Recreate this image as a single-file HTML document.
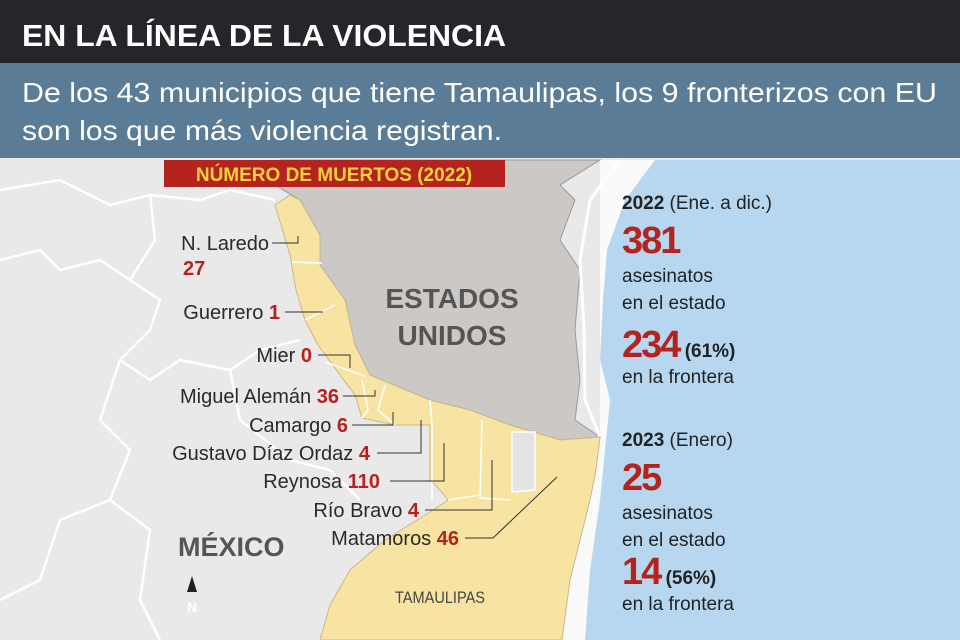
<!DOCTYPE html>
<html><head><meta charset="utf-8"><style>
html,body{margin:0;padding:0;width:960px;height:640px;overflow:hidden;font-family:"Liberation Sans",sans-serif;}
svg{display:block;}
</style></head><body>
<svg width="960" height="640" xmlns="http://www.w3.org/2000/svg" font-family="Liberation Sans, sans-serif">
<rect width="960" height="640" fill="#e9e9e9"/>
<g fill="none" stroke="#fff" stroke-width="2.5">
<polyline points="0,190 60,180 110,205 150,195 200,200 230,190 275,200"/>
<polyline points="150,195 155,240 130,280 160,300 150,330 120,360 150,380 180,360 230,370 260,350 300,340"/>
<polyline points="120,360 100,420 130,450 110,500 150,530 140,600 160,640"/>
<polyline points="0,260 40,250 60,270 100,260 130,280"/>
<polyline points="230,370 240,420 290,460 330,470 360,500"/>
<polyline points="110,500 60,520 40,580 0,600"/>
</g>
<path d="M655,160 L960,160 L960,640 L585,640 L590,570 L600,500 L606,440 L610,400 L600,360 L603,300 L607,250 L625,200 Z" fill="#b7d6f0"/>
<path d="M600,160 L655,160 L625,200 L607,250 L603,300 L600,360 L610,400 L606,440 L600,500 L590,570 L585,640 L560,640 L570,560 L590,500 L600,437 Z" fill="#fafafa"/>
<path d="M280,160 L600,160 L560,185 L575,200 L560,240 L580,270 L575,330 L580,380 L575,420 L600,437 L560,440 L510,425 L470,410 L430,400 L370,375 L355,345 L345,300 L320,265 L320,235 L300,200 L275,185 Z" fill="#cbc8c5" stroke="#999" stroke-width="1"/>
<g fill="none" stroke="#fff" stroke-width="3"><polyline points="620,160 590,200 580,260 584,330 585,400 600,437"/></g>
<path d="M275,205 L290,195 L300,200 L320,235 L320,265 L345,300 L355,345 L370,375 L430,400 L470,410 L510,425 L560,440 L600,437 L596,470 L590,500 L580,540 L570,580 L562,640 L320,640 L330,605 L350,570 L385,540 L430,512 L448,500 L440,490 L430,480 L430,425 L395,425 L362,418 L355,395 L340,375 L318,345 L305,320 L296,290 L290,255 Z" fill="#f7e3a2" stroke="#c9b88a" stroke-width="1"/>
<g fill="none" stroke="#fff" stroke-width="1.5">
<polyline points="292,262 322,263"/><polyline points="305,320 335,305"/><polyline points="325,362 365,376"/>
<polyline points="362,380 368,410 362,418"/><polyline points="385,385 378,410 395,425"/>
<polyline points="430,400 432,425"/><polyline points="432,425 432,500"/>
<polyline points="482,420 480,498 510,500"/><polyline points="448,500 480,495"/>
</g>
<path d="M512,432 L535,432 L535,490 L512,492 Z" fill="#e4e4e4" stroke="#fff" stroke-width="1.5"/>
<rect x="164" y="160" width="341" height="27" fill="#b5231f"/>
<text x="334" y="181" text-anchor="middle" font-size="19" font-weight="bold" fill="#f5d23c">NÚMERO DE MUERTOS (2022)</text>
<g fill="none" stroke="#333" stroke-width="1">
<polyline points="272,243 298,243 298,236"/>
<polyline points="285,312 323,312"/>
<polyline points="318,355 350,355 350,368"/>
<polyline points="343,396 375,396 375,390"/>
<polyline points="352,425 393,425 393,412"/>
<polyline points="377,453 421,453 421,420"/>
<polyline points="390,481 444,481 444,443"/>
<polyline points="425,510 492,510 492,460"/>
<polyline points="465,538 493,538 557,477"/>
</g>
<g font-size="20" fill="#2a2a2a" text-anchor="end">
<text x="269" y="250">N. Laredo</text>
<text x="280" y="319">Guerrero <tspan fill="#b5231f" font-weight="bold">1</tspan></text>
<text x="312" y="362">Mier <tspan fill="#b5231f" font-weight="bold">0</tspan></text>
<text x="339" y="403">Miguel Alemán <tspan fill="#b5231f" font-weight="bold">36</tspan></text>
<text x="348" y="432">Camargo <tspan fill="#b5231f" font-weight="bold">6</tspan></text>
<text x="370" y="460">Gustavo Díaz Ordaz <tspan fill="#b5231f" font-weight="bold">4</tspan></text>
<text x="380" y="488">Reynosa <tspan fill="#b5231f" font-weight="bold">110</tspan></text>
<text x="419" y="517">Río Bravo <tspan fill="#b5231f" font-weight="bold">4</tspan></text>
<text x="459" y="545">Matamoros <tspan fill="#b5231f" font-weight="bold">46</tspan></text>
</g>
<text x="183" y="275" font-size="20" font-weight="bold" fill="#b5231f">27</text>
<g font-size="28" fill="#555" text-anchor="middle" font-weight="bold"><text x="452" y="308">ESTADOS</text><text x="452" y="345">UNIDOS</text></g>
<text x="178" y="556" font-size="27" font-weight="bold" fill="#555">MÉXICO</text>
<text x="440" y="603" font-size="17" fill="#444" text-anchor="middle" textLength="90" lengthAdjust="spacingAndGlyphs">TAMAULIPAS</text>
<path d="M192,576 L187,592 L197,592 Z" fill="#222"/>
<text x="192" y="612" font-size="14" fill="#fff" text-anchor="middle" font-weight="bold">N</text>
<g fill="#222" font-size="19">
<text x="622" y="209"><tspan font-weight="bold">2022</tspan> (Ene. a dic.)</text>
<text x="622" y="253" font-size="38" font-weight="bold" fill="#b5231f" letter-spacing="-2">381</text>
<text x="622" y="282">asesinatos</text>
<text x="622" y="309">en el estado</text>
<text x="622" y="357"><tspan font-size="38" font-weight="bold" fill="#b5231f" letter-spacing="-2">234</tspan> <tspan font-weight="bold">(61%)</tspan></text>
<text x="622" y="383">en la frontera</text>
<text x="622" y="446"><tspan font-weight="bold">2023</tspan> (Enero)</text>
<text x="622" y="490" font-size="38" font-weight="bold" fill="#b5231f" letter-spacing="-2">25</text>
<text x="622" y="519">asesinatos</text>
<text x="622" y="546">en el estado</text>
<text x="622" y="584"><tspan font-size="38" font-weight="bold" fill="#b5231f" letter-spacing="-2">14</tspan> <tspan font-weight="bold">(56%)</tspan></text>
<text x="622" y="610">en la frontera</text>
</g>
<rect x="0" y="0" width="960" height="63" fill="#25252a"/>
<text x="22" y="46" font-size="31" font-weight="bold" fill="#fff" textLength="484" lengthAdjust="spacingAndGlyphs">EN LA LÍNEA DE LA VIOLENCIA</text>
<rect x="0" y="63" width="960" height="95" fill="#5b7c96"/>
<text x="22" y="102" font-size="28" fill="#fff" textLength="915" lengthAdjust="spacingAndGlyphs">De los 43 municipios que tiene Tamaulipas, los 9 fronterizos con EU</text>
<text x="22" y="140" font-size="28" fill="#fff" textLength="480" lengthAdjust="spacingAndGlyphs">son los que más violencia registran.</text>
</svg>
</body></html>
